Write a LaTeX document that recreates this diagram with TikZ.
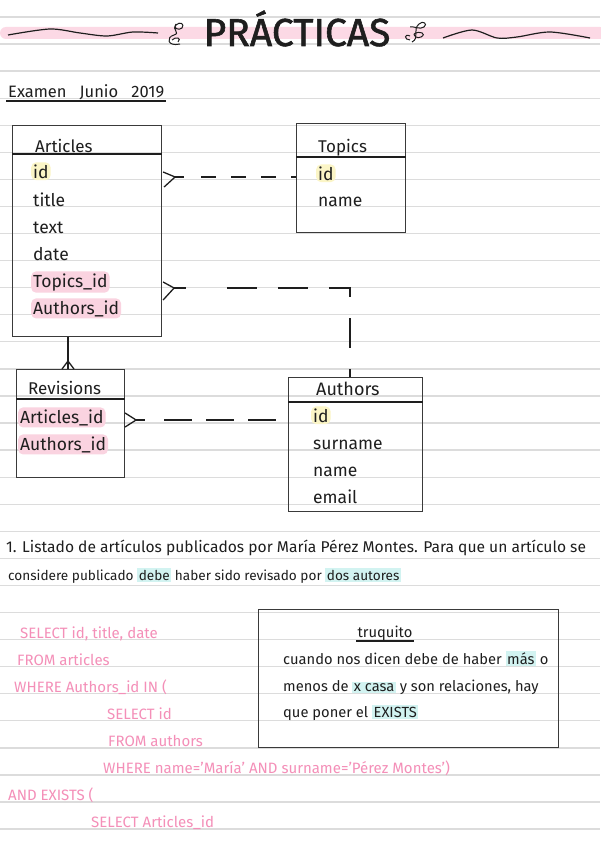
\documentclass[tikz,border=0pt]{standalone}
\usepackage{fontspec}
\setmainfont{Fira Sans}
\usepackage{xcolor}
\usepackage{tikz}
\usetikzlibrary{calc,positioning}
\definecolor{rule}{HTML}{DCDCDC}
\definecolor{ink}{HTML}{1E1E1E}
\definecolor{boxline}{HTML}{3A3A3A}
\definecolor{pinkband}{HTML}{FCD9E5}
\definecolor{pinkhl}{HTML}{FAD3E0}
\definecolor{yellowhl}{HTML}{FBF5C6}
\definecolor{cyanhl}{HTML}{D2F3F1}
\definecolor{sqlpink}{HTML}{F48FB8}
\newcommand{\hlc}[2]{{\setlength{\fboxsep}{1.5pt}\colorbox{#1}{#2}}}

\begin{document}
\begin{tikzpicture}[x=1pt,y=-1pt,
  tbl/.style={draw=boxline,line width=1.1pt,anchor=north west,inner sep=0pt},
  fld/.style={anchor=base west,inner sep=2pt,rounded corners=5pt,text=ink,font=\fontsize{17.5}{17.5}\selectfont},
  hdr/.style={fld,font=\fontsize{17}{17}\selectfont},
  hly/.style={fill=yellowhl}, hlp/.style={fill=pinkhl}, plain/.style={},
  conn/.style={ink,line width=1.3pt},
  rel/.style={conn,dash pattern=on 15pt off 15pt},
  sql/.style={anchor=base west,inner sep=0pt,text=sqlpink,font=\fontsize{15}{15}\selectfont},
  note/.style={anchor=base west,inner sep=0pt,text=ink,font=\fontsize{14.7}{14.7}\selectfont}]

  \useasboundingbox (0,0) rectangle (600,848);
  \fill[white] (0,0) rectangle (600,848);
  % ruled page
  \foreach \k in {0,...,30}
    {\draw[rule,line width=1.3pt] (0,{17+27.07*\k}) -- (600,{17+27.07*\k});}
  \fill[pinkband,rounded corners=6pt] (0,27) rectangle (606,39);

  % heading
  \node[anchor=base,inner sep=0pt,text=ink,font=\fontsize{39}{39}\selectfont\addfontfeature{FakeBold=1.5}] (title) at (297,46) {PRÁCTICAS};
  \draw[ink,line width=1.2pt] plot[smooth] coordinates {(8,35) (50,29) (80,33) (107,36) (133,32) (158,33)};
  \draw[ink,line width=1.2pt] plot[smooth] coordinates {(443,38) (472,30) (497,38) (517,37) (550,32) (590,38)};
  \draw[ink,line width=1pt] (180,44) .. controls (167,47) and (166,37) .. (174,35)
    .. controls (181,33) and (171,29) .. (176,25) .. controls (180,21) and (185,24) .. (182,28)
    .. controls (179,31) and (172,28) .. (176,24);
  \draw[ink,line width=1pt] (172,40) .. controls (176,36) and (182,38) .. (178,42);
  \draw[ink,line width=1pt] (412,42) .. controls (420,38) and (412,30) .. (419,24)
    .. controls (423,20) and (428,24) .. (424,27) .. controls (420,30) and (414,26) .. (410,27);
  \draw[ink,line width=1pt] (414,34) .. controls (420,30) and (427,34) .. (421,37) .. controls (417,39) and (414,36) .. (414,34);
  \draw[ink,line width=1pt] (410,36) .. controls (404,33) and (404,40) .. (410,40);

  \node[anchor=base west,inner sep=0pt,text=ink,font=\fontsize{16.5}{16.5}\selectfont] (exam) at (8,98) {Examen\ \ \ Junio\ \ \ 2019};
  \draw[ink,line width=1.4pt] ($(exam.base west)+(-2,3)$) -- ($(exam.base east)+(2,3)$);

  % tables
  \node[tbl,minimum width=149pt,minimum height=211pt] (articles) at (12,125) {};
  \node[tbl,minimum width=109pt,minimum height=109pt] (topics) at (296,123) {};
  \node[tbl,minimum width=108pt,minimum height=108pt] (revisions) at (16,369) {};
  \node[tbl,minimum width=134pt,minimum height=134pt] (authors) at (288,377) {};
  \draw[ink,line width=1.8pt] ($(articles.north west)+(0,29)$) -- ($(articles.north east)+(0,29)$);
  \draw[ink,line width=1.8pt] ($(topics.north west)+(0,34)$) -- ($(topics.north east)+(0,34)$);
  \draw[ink,line width=1.8pt] ($(revisions.north west)+(0,30)$) -- ($(revisions.north east)+(0,30)$);
  \draw[ink,line width=1.8pt] ($(authors.north west)+(0,25)$) -- ($(authors.north east)+(0,25)$);

  \node[hdr] (art-h) at (33,152) {Articles};
  \foreach \y/\t/\s [count=\i] in {178/id/hly,206/title/plain,233/text/plain,260/date/plain,287/Topics\_id/hlp,314/Authors\_id/hlp}
    {\node[fld,\s] (art-\i) at (31,\y) {\t};}
  \node[hdr] (top-h) at (316,152) {Topics};
  \foreach \y/\t/\s [count=\i] in {180/id/hly,206/name/plain}
    {\node[fld,\s] (top-\i) at (316,\y) {\t};}
  \node[hdr] (rev-h) at (26,394) {Revisions};
  \foreach \y/\t/\s [count=\i] in {423/Articles\_id/hlp,450/Authors\_id/hlp}
    {\node[fld,\s] (rev-\i) at (18,\y) {\t};}
  \node[hdr,font=\fontsize{18}{18}\selectfont] (aut-h) at (314,395) {Authors};
  \foreach \y/\t/\s [count=\i] in {422/id/hly,449/surname/plain,476/name/plain,503/email/plain}
    {\node[fld,\s] (aut-\i) at (311,\y) {\t};}

  % relations
  \coordinate (r1) at ($(articles.north east)+(0,52)$);
  \draw[conn] ($(r1)+(1,-5)$) -- ($(r1)+(13,0)$) -- ($(r1)+(2,10)$);
  \draw[conn] ($(r1)+(13,0)$) -- ($(r1)+(22,0)$);
  \draw[rel] ($(r1)+(39,0)$) -- (topics.west |- r1);

  \coordinate (r2) at ($(articles.north east)+(0,163)$);
  \coordinate (r2end) at ($(authors.north west)+(62,0)$);
  \draw[conn] ($(r2)+(1,-6)$) -- ($(r2)+(12,0)$) -- ($(r2)+(1,12)$);
  \draw[conn] ($(r2)+(12,0)$) -- ($(r2)+(24,0)$);
  \draw[conn,dash pattern=on 30pt off 21pt] ($(r2)+(65,0)$) -- (r2 -| r2end) -- (r2end);

  \coordinate (r3) at ($(revisions.north east)+(0,51)$);
  \draw[conn] ($(r3)+(0,-7)$) -- ($(r3)+(11,0)$) -- ($(r3)+(0,7)$);
  \draw[conn] ($(r3)+(11,0)$) -- ($(r3)+(20,0)$);
  \draw[conn,dash pattern=on 28pt off 14pt] ($(r3)+(39,0)$) -- (authors.west |- r3);

  \coordinate (r4) at ($(articles.south west)+(56,0)$);
  \draw[conn] (r4) -- (r4 |- revisions.north);
  \draw[conn] ($(r4 |- revisions.north)+(-6,0)$) -- ($(r4 |- revisions.north)+(0,-8)$) -- ($(r4 |- revisions.north)+(6,0)$);

  % exercise
  \node[note,font=\fontsize{15.6}{15.6}\selectfont] (q1) at (6,552) {1. Listado de artículos publicados por María Pérez Montes. Para que un artículo se};
  \node[note,font=\fontsize{13.6}{13.6}\selectfont] (q2) at (8,580) {considere publicado \hlc{cyanhl}{debe} haber sido revisado por \hlc{cyanhl}{dos autores}};

  \foreach \x/\y/\t [count=\i] in {20/638/{SELECT id, title, date},17/665/{FROM articles},14/692/{WHERE Authors\_id IN (},
      107/719/{SELECT id},108/746/{FROM authors},103/773/{WHERE name='María' AND surname='Pérez Montes')},
      8/800/{AND EXISTS (},91/827/{SELECT Articles\_id}}
    {\node[sql] (sql-\i) at (\x,\y) {\t};}

  \node[tbl,minimum width=300pt,minimum height=138pt] (tip) at (258,609) {};
  \node[note,anchor=base] (tip-h) at (385,637) {truquito};
  \draw[ink,line width=1.1pt] ($(tip-h.base west)+(-1,4)$) -- ($(tip-h.base east)+(1,4)$);
  \node[note] (tip-1) at (283,664) {cuando nos dicen debe de haber \hlc{cyanhl}{más} o};
  \node[note] (tip-2) at (283,691) {menos de \hlc{cyanhl}{x casa} y son relaciones, hay};
  \node[note] (tip-3) at (283,717) {que poner el \hlc{cyanhl}{EXISTS}};
\end{tikzpicture}
\end{document}
